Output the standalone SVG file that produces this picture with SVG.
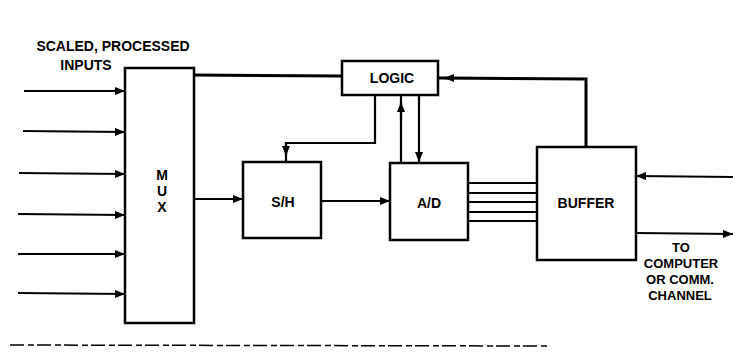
<svg xmlns="http://www.w3.org/2000/svg" width="733" height="352" viewBox="0 0 733 352">
<style>
.box{fill:#fff;stroke:#000;stroke-width:2.5}
.ln{fill:none;stroke:#000;stroke-width:2.2}
.thick{fill:none;stroke:#000;stroke-width:3}
.t{font-family:"Liberation Sans",Arial,sans-serif;font-weight:bold;font-size:14px;fill:#000}
.lbl{font-family:"Liberation Sans",Arial,sans-serif;font-weight:bold;font-size:13px;fill:#000}
</style>
<defs>
<marker id="ah" viewBox="0 0 10 8" refX="10" refY="4" markerWidth="10" markerHeight="8" markerUnits="userSpaceOnUse" orient="auto">
<path d="M0,0 L10,4 L0,8 Z" fill="#000"/>
</marker>
</defs>
<g id="connectors">
<!-- inputs to MUX -->
<line class="ln" x1="24" y1="91" x2="125" y2="91" marker-end="url(#ah)"/>
<line class="ln" x1="23" y1="131" x2="125" y2="132" marker-end="url(#ah)"/>
<line class="ln" x1="19" y1="173" x2="125" y2="174" marker-end="url(#ah)"/>
<line class="ln" x1="18" y1="214" x2="125" y2="215" marker-end="url(#ah)"/>
<line class="ln" x1="18" y1="254" x2="125" y2="254" marker-end="url(#ah)"/>
<line class="ln" x1="18" y1="293" x2="125" y2="294" marker-end="url(#ah)"/>
<!-- MUX to LOGIC -->
<line class="thick" x1="194" y1="75" x2="342" y2="76"/>
<!-- LOGIC to BUFFER -->
<polyline class="thick" points="586,147 586,79 438,78"/>
<line class="ln" x1="470" y1="78" x2="444" y2="78" marker-end="url(#ah)"/>
<!-- MUX to S/H -->
<line class="ln" x1="194" y1="199" x2="243" y2="199" marker-end="url(#ah)"/>
<!-- S/H to A/D -->
<line class="ln" x1="321" y1="201" x2="390" y2="201" marker-end="url(#ah)"/>
<!-- LOGIC to S/H -->
<polyline class="ln" points="375,95 375,143 286,143 286,162"/>
<line class="ln" x1="286" y1="143" x2="286" y2="156" marker-end="url(#ah)"/>
<!-- A/D to LOGIC -->
<line class="ln" x1="401" y1="162" x2="401" y2="95"/>
<line class="ln" x1="401" y1="120" x2="401" y2="102" marker-end="url(#ah)"/>
<!-- LOGIC to A/D -->
<line class="ln" x1="419" y1="95" x2="419" y2="162" marker-end="url(#ah)"/>
<!-- A/D to BUFFER bus -->
<line class="ln" x1="468" y1="183" x2="537" y2="183"/>
<line class="ln" x1="468" y1="193" x2="537" y2="193"/>
<line class="ln" x1="468" y1="202" x2="537" y2="202"/>
<line class="ln" x1="468" y1="212" x2="537" y2="212"/>
<line class="ln" x1="468" y1="221" x2="537" y2="221"/>
<!-- external to BUFFER -->
<line class="ln" x1="733" y1="177" x2="636" y2="176" marker-end="url(#ah)"/>
<!-- BUFFER to computer -->
<line class="ln" x1="636" y1="233" x2="733" y2="234" marker-end="url(#ah)"/>
</g>
<g id="inputs-label">
<text class="t" x="113" y="51" text-anchor="middle">SCALED, PROCESSED</text>
<text class="t" x="86" y="70" text-anchor="middle">INPUTS</text>
</g>
<g id="mux">
<rect class="box" x="125" y="68" width="69" height="255"/>
<text class="t" x="162" y="180" text-anchor="middle">M</text>
<text class="t" x="162" y="196" text-anchor="middle">U</text>
<text class="t" x="162" y="212" text-anchor="middle">X</text>
</g>
<g id="logic">
<rect class="box" x="342" y="61" width="96" height="34"/>
<text class="t" x="392" y="83" text-anchor="middle">LOGIC</text>
</g>
<g id="sh">
<rect class="box" x="243" y="162" width="78" height="76"/>
<text class="t" x="283" y="207" text-anchor="middle">S/H</text>
</g>
<g id="ad">
<rect class="box" x="390" y="163" width="78" height="77"/>
<text class="t" x="429" y="208" text-anchor="middle">A/D</text>
</g>
<g id="buffer">
<rect class="box" x="537" y="147" width="99" height="113"/>
<text class="t" x="586" y="208" text-anchor="middle">BUFFER</text>
</g>
<g id="output-label">
<text class="lbl" x="681" y="252" text-anchor="middle">TO</text>
<text class="lbl" x="681" y="268" text-anchor="middle">COMPUTER</text>
<text class="lbl" x="680" y="284" text-anchor="middle">OR COMM.</text>
<text class="lbl" x="680" y="300" text-anchor="middle">CHANNEL</text>
</g>
<line x1="10" y1="345" x2="550" y2="346" stroke="#000" stroke-width="1.5" stroke-dasharray="14 4 6 3"/>
</svg>
